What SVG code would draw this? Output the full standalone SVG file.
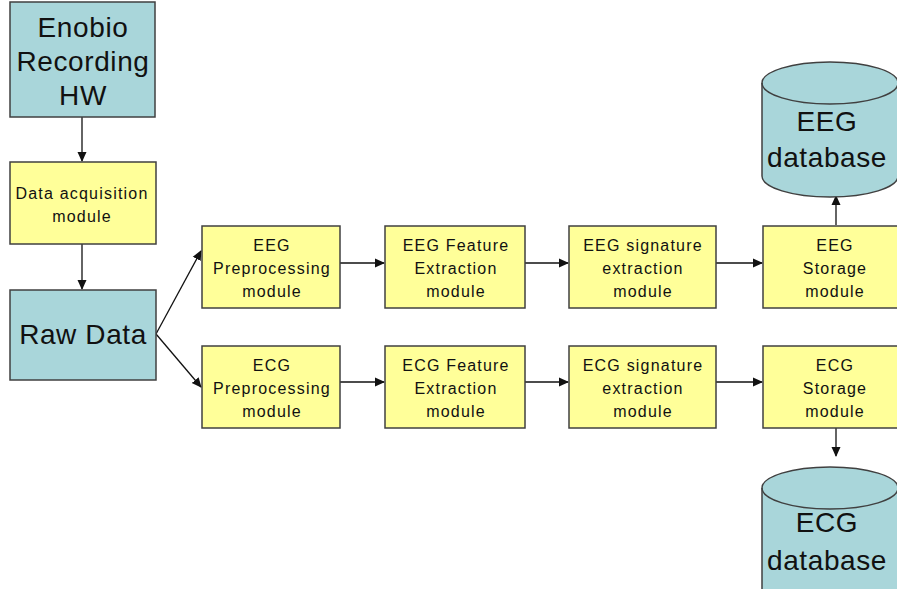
<svg xmlns="http://www.w3.org/2000/svg" width="897" height="589" viewBox="0 0 897 589">
<style>
.blue{fill:#a9d6da;stroke:#404040;stroke-width:1.5}
.yel{fill:#ffff99;stroke:#404040;stroke-width:1.5}
.t{font-family:"Liberation Sans",Arial,sans-serif;fill:#111;text-anchor:middle}
.s{font-size:16px;letter-spacing:1.2px}
.b{font-size:28px;letter-spacing:0.6px}
.c{stroke:#111;stroke-width:1.3;fill:none;marker-end:url(#ah)}
</style>
<defs>
<marker id="ah" markerWidth="10" markerHeight="10" refX="9" refY="5" orient="auto" markerUnits="userSpaceOnUse">
<path d="M0,0.5 L10,5 L0,9.5 Z" fill="#111"/>
</marker>
</defs>
<rect width="897" height="589" fill="#fff"/>
<g id="connectors">
<line class="c" x1="82" y1="117" x2="82" y2="161"/>
<line class="c" x1="82" y1="244" x2="82" y2="289"/>
<line class="c" x1="156" y1="334" x2="201" y2="251"/>
<line class="c" x1="156" y1="334" x2="201" y2="387"/>
<line class="c" x1="340" y1="263" x2="384" y2="263"/>
<line class="c" x1="525" y1="263" x2="568" y2="263"/>
<line class="c" x1="716" y1="263" x2="762" y2="263"/>
<line class="c" x1="340" y1="382" x2="384" y2="382"/>
<line class="c" x1="525" y1="382" x2="568" y2="382"/>
<line class="c" x1="716" y1="382" x2="762" y2="382"/>
<line class="c" x1="836" y1="225" x2="836" y2="196"/>
<line class="c" x1="836" y1="428" x2="836" y2="456"/>
</g>
<g id="enobio">
<rect class="blue" x="10" y="2" width="145" height="115"/>
<text class="t b" x="83" y="37">Enobio</text>
<text class="t b" x="83" y="71">Recording</text>
<text class="t b" x="83" y="105">HW</text>
</g>
<g id="daq">
<rect class="yel" x="10" y="162" width="146" height="82"/>
<text class="t s" x="82" y="199">Data acquisition</text>
<text class="t s" x="82" y="222">module</text>
</g>
<g id="raw">
<rect class="blue" x="10" y="290" width="146" height="90"/>
<text class="t b" x="83" y="344">Raw Data</text>
</g>
<g id="eeg-pre">
<rect class="yel" x="202" y="226" width="138" height="82"/>
<text class="t s" x="272" y="251">EEG</text>
<text class="t s" x="272" y="274">Preprocessing</text>
<text class="t s" x="272" y="297">module</text>
</g>
<g id="eeg-feat">
<rect class="yel" x="385" y="226" width="140" height="82"/>
<text class="t s" x="456" y="251">EEG Feature</text>
<text class="t s" x="456" y="274">Extraction</text>
<text class="t s" x="456" y="297">module</text>
</g>
<g id="eeg-sig">
<rect class="yel" x="569" y="226" width="147" height="82"/>
<text class="t s" x="643" y="251">EEG signature</text>
<text class="t s" x="643" y="274">extraction</text>
<text class="t s" x="643" y="297">module</text>
</g>
<g id="eeg-store">
<rect class="yel" x="763" y="226" width="140" height="82"/>
<text class="t s" x="835" y="251">EEG</text>
<text class="t s" x="835" y="274">Storage</text>
<text class="t s" x="835" y="297">module</text>
</g>
<g id="ecg-pre">
<rect class="yel" x="202" y="346" width="138" height="82"/>
<text class="t s" x="272" y="371">ECG</text>
<text class="t s" x="272" y="394">Preprocessing</text>
<text class="t s" x="272" y="417">module</text>
</g>
<g id="ecg-feat">
<rect class="yel" x="385" y="346" width="140" height="82"/>
<text class="t s" x="456" y="371">ECG Feature</text>
<text class="t s" x="456" y="394">Extraction</text>
<text class="t s" x="456" y="417">module</text>
</g>
<g id="ecg-sig">
<rect class="yel" x="569" y="346" width="147" height="82"/>
<text class="t s" x="643" y="371">ECG signature</text>
<text class="t s" x="643" y="394">extraction</text>
<text class="t s" x="643" y="417">module</text>
</g>
<g id="ecg-store">
<rect class="yel" x="763" y="346" width="140" height="82"/>
<text class="t s" x="835" y="371">ECG</text>
<text class="t s" x="835" y="394">Storage</text>
<text class="t s" x="835" y="417">module</text>
</g>
<g id="eeg-db">
<path class="blue" d="M762,83 A68,21 0 0 1 898,83 L898,176 A68,21 0 0 1 762,176 Z"/>
<path d="M762,83 A68,21 0 0 0 898,83" fill="none" stroke="#404040" stroke-width="1.5"/>
<text class="t b" x="827" y="131">EEG</text>
<text class="t b" x="827" y="167">database</text>
</g>
<g id="ecg-db">
<path class="blue" d="M762,488 A68,21 0 0 1 898,488 L898,600 L762,600 Z"/>
<path d="M762,488 A68,21 0 0 0 898,488" fill="none" stroke="#404040" stroke-width="1.5"/>
<text class="t b" x="827" y="532">ECG</text>
<text class="t b" x="827" y="570">database</text>
</g>
</svg>
